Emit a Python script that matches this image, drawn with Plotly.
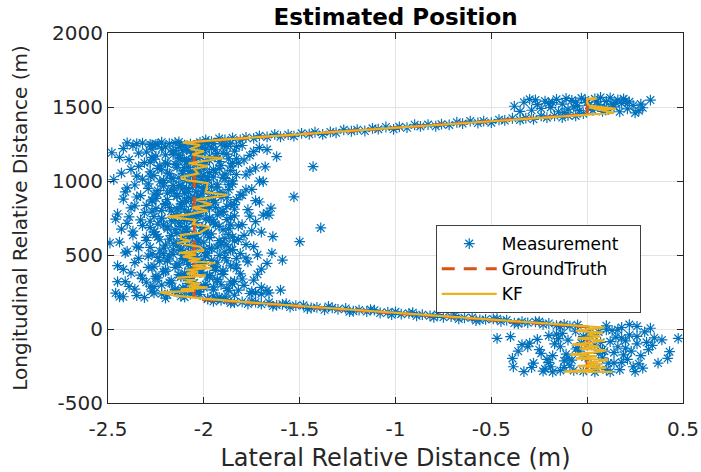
import plotly.graph_objects as go

# ---------------- data ----------------
meas_main_x = [
    -2.31, -1.98, -2.12, -1.84, -2.44, -2.07, -1.73, -2.19, -1.92, -2.26,
    -2.03, -1.67, -2.15, -2.36, -1.88, -2.08, -1.95, -2.28, -1.79, -2.11,
    -1.99, -2.22, -1.60, -2.41, -2.05, -1.86, -2.17, -1.93, -2.32, -1.74,
    -2.09, -2.25, -1.97, -2.13, -1.81, -2.38, -2.01, -1.90, -2.20, -1.70,
    -2.06, -2.29, -1.94, -2.45, -1.83, -2.14, -2.02, -1.77, -2.23, -1.96,
    -1.59, -2.10, -2.34, -1.89, -2.04, -2.18, -1.72, -2.27, -1.98, -2.07,
    -1.645, -2.40, -2.12, -1.85, -2.00, -2.21, -1.93, -2.35, -2.08, -1.78,
    -2.49, -1.50, -2.16, -1.91, -2.03, -2.30, -1.82, -2.11, -1.97, -2.24,
    -1.64, -2.06, -2.37, -1.87, -2.14, -1.99, -2.26, -1.75, -2.09, -2.43,
    -1.39, -2.01, -2.19, -1.92, -2.32, -1.80, -2.05, -2.13, -1.95, -2.28,
    -2.46, -2.10, -1.88, -2.22, -1.97, -2.39, -1.76, -2.04, -2.15, -1.69,
    -1.67, -2.07, -2.31, -1.90, -2.17, -2.00, -1.84, -2.25, -1.94, -2.12,
    -1.65, -2.36, -2.02, -1.86, -2.20, -1.98, -2.09, -1.73, -2.27, -2.42,
    -1.53, -2.05, -1.91, -2.14, -2.33, -1.81, -2.01, -2.19, -1.96, -2.08,
    -2.24, -1.78, -2.11, -2.40, -1.93, -2.03, -2.16, -1.87, -2.29, -1.99,
    -2.06, -1.71, -2.21, -2.47, -1.89, -2.13, -1.95, -2.35, -2.00, -1.83,
    -2.18, -1.97, -2.28, -1.76, -2.04, -2.38, -1.92, -2.10, -1.68, -2.23,
    -1.43, -2.02, -2.15, -1.85, -2.31, -1.99, -2.08, -1.79, -2.26, -2.12,
    -1.62, -2.44, -1.94, -2.05, -2.20, -1.88, -2.34, -2.01, -1.74, -2.16,
    -2.48, -1.67, -2.09, -2.27, -1.96, -2.13, -1.83, -2.37, -2.03, -1.91,
    -2.32, -2.18, -2.40, -2.22, -2.07, -1.98, -2.13, -2.28, -1.86,
]
meas_main_y = [
    212, 205, 221, 228, 218, 236, 247, 231, 214, 244,
    252, 261, 258, 270, 275, 266, 284, 289, 295, 278,
    301, 297, 263, 320, 312, 318, 326, 335, 341, 330,
    348, 355, 361, 367, 372, 379, 384, 391, 399, 404,
    411, 416, 421, 428, 434, 440, 446, 453, 458, 464,
    466, 471, 477, 483, 489, 495, 501, 507, 512, 518,
    513, 524, 530, 536, 541, 547, 553, 559, 564, 570,
    581, 590, 576, 584, 593, 598, 604, 611, 617, 622,
    624, 629, 634, 640, 646, 652, 657, 663, 669, 675,
    683, 681, 688, 694, 699, 705, 711, 716, 722, 728,
    743, 734, 739, 745, 751, 757, 762, 768, 774, 770,
    783, 780, 786, 792, 797, 803, 809, 815, 820, 826,
    817, 832, 838, 844, 849, 855, 861, 867, 872, 878,
    893, 884, 890, 896, 901, 907, 913, 918, 924, 930,
    936, 941, 947, 953, 959, 964, 970, 976, 981, 987,
    993, 999, 1004, 1010, 1016, 1022, 1027, 1033, 1039, 1044,
    1050, 1056, 1062, 1067, 1073, 1079, 1084, 1090, 1096, 1102,
    1097, 1107, 1113, 1119, 1124, 1130, 1136, 1142, 1147, 1153,
    1165, 1159, 1165, 1170, 1176, 1182, 1188, 1193, 1199, 1205,
    1191, 1212, 1210, 1216, 1222, 1228, 1233, 1239, 1245, 1250,
    1256, 1252, 1258, 1262, 1249, 1257, 1264, 1247, 1255,
]
meas_main2_x = [
    -2.20, -1.89, -2.35, -2.02, -1.76, -2.14, -2.27, -1.95, -2.09, -1.70,
    -2.39, -2.00, -1.85, -2.17, -2.30, -1.93, -2.07, -1.80, -2.24, -2.12,
    -1.98, -2.33, -1.72, -2.10, -2.21, -1.90, -2.04, -2.42, -1.83, -2.15,
    -2.26, -1.95, -2.08, -1.67, -2.36, -2.01, -1.88, -2.19, -2.11, -1.78,
    -2.05, -2.29, -1.92, -2.16, -1.81, -2.41, -2.00, -2.23, -1.86, -2.12,
    -1.97, -2.34, -1.74, -2.07, -2.20, -1.91, -2.13, -2.44, -1.84, -2.03,
    -2.18, -1.89, -2.30, -2.06, -1.79, -2.25, -1.96, -2.11, -1.70, -2.37,
    -2.00, -2.15, -1.87, -2.28, -2.09, -1.82, -2.21, -1.94, -2.40, -2.04,
    -1.73, -2.17, -2.33, -1.99, -2.10, -1.86, -2.26, -2.02, -1.93, -2.45,
    -2.08, -1.90, -2.22, -1.77, -2.14, -2.38, -1.97, -2.05, -2.30, -1.84,
    -2.12, -2.01, -1.71, -2.27, -1.95, -2.19, -2.07, -1.88, -2.35, -2.03,
    -1.80, -2.24, -2.10, -1.92, -2.41, -2.00, -2.16, -1.75, -2.29, -2.06,
    -1.96, -2.13, -2.36, -1.85, -2.04, -2.21, -1.69, -2.09, -1.98, -2.32,
    -2.17, -1.90, -2.03, -2.26, -1.78, -2.11, -2.43, -1.94, -2.07, -1.86,
    -2.22, -2.00, -1.73, -2.14, -2.34, -1.91, -2.05, -2.19, -1.82, -2.28,
    -2.09, -1.97, -2.39, -1.87, -2.13, -2.02, -2.25, -1.76, -2.16, -1.93,
    -2.06, -2.30, -1.84, -2.11, -1.99, -2.42, -1.71, -2.20, -2.04, -1.89,
    -2.24, -2.35, -1.80, -2.15, -2.27, -1.95, -2.02, -2.10,
    -2.46, -2.42, -2.45, -1.66, -1.75, -1.70, -1.82, -1.66,
]
meas_main2_y = [
    208, 217, 226, 233, 240, 249, 256, 264, 272, 281,
    287, 293, 304, 309, 316, 324, 331, 338, 345, 352,
    358, 364, 370, 377, 386, 393, 397, 403, 409, 417,
    424, 431, 437, 444, 449, 456, 461, 468, 475, 480,
    486, 492, 498, 504, 510, 515, 521, 527, 533, 539,
    545, 550, 556, 562, 567, 573, 579, 587, 595, 601,
    607, 613, 619, 626, 632, 637, 643, 649, 655, 661,
    666, 672, 678, 685, 691, 697, 702, 708, 714, 719,
    725, 731, 737, 742, 748, 754, 760, 765, 771, 777,
    788, 794, 800, 806, 812, 818, 823, 829, 835, 841,
    846, 852, 858, 864, 869, 875, 881, 887, 892, 898,
    904, 910, 915, 921, 927, 933, 938, 944, 950, 956,
    961, 967, 973, 979, 984, 990, 996, 1002, 1007, 1013,
    1019, 1025, 1030, 1036, 1042, 1048, 1053, 1059, 1065, 1070,
    1076, 1082, 1088, 1093, 1099, 1105, 1110, 1116, 1122, 1128,
    1133, 1139, 1145, 1150, 1156, 1162, 1168, 1173, 1179, 1185,
    1190, 1196, 1202, 1207, 1213, 1219, 1225, 1230, 1236, 1242,
    1247, 1253, 1240, 1259, 1244, 1252, 1261, 1243,
    243, 218, 320, 770, 252, 236, 262, 244,
]
meas_main3_x = [
    -2.10, -1.95, -2.22, -2.04, -1.87, -2.15, -2.00, -2.26, -1.91, -2.08,
    -2.18, -1.84, -2.06, -2.25, -1.97, -2.12, -1.90, -2.02, -2.20, -1.94,
    -2.07, -2.27, -1.86, -2.13, -2.01, -1.93, -2.19, -2.09, -1.83, -2.24,
    -1.99, -2.11, -2.21, -1.89, -2.05, -2.16, -1.96, -2.28, -2.03, -1.88,
    -2.14, -2.00, -1.92, -2.23, -2.08, -1.85, -2.17, -2.04, -1.98, -2.26,
    -2.09, -1.90, -2.19, -2.01, -2.12, -1.86, -2.24, -1.95, -2.06, -2.15,
    -1.97, -2.22, -2.07, -1.84, -2.13, -2.03, -1.91, -2.27, -2.10, -1.99,
    -2.18, -1.88, -2.05, -2.20, -1.94, -2.11, -2.02, -1.83, -2.25, -2.08,
    -1.96, -2.14, -2.26, -1.90, -2.04, -2.17, -1.87, -2.09, -2.00, -2.21,
    -2.12, -1.93, -2.06, -2.23, -1.85, -2.01, -2.16, -1.98, -2.28, -2.07,
    -1.89, -2.19, -2.03, -2.11, -1.95, -2.24, -2.08, -1.86, -2.14, -2.00,
    -2.20, -1.92, -2.10, -2.05, -1.83, -2.27, -1.97, -2.13, -2.02, -1.90,
    -2.16, -2.07, -1.94, -2.22, -2.01, -1.88, -2.12, -2.25, -1.99, -2.05,
]
meas_main3_y = [
    215, 223, 238, 246, 259, 268, 279, 286, 299, 307,
    314, 322, 333, 343, 350, 362, 369, 381, 389, 396,
    406, 414, 426, 432, 442, 451, 459, 469, 476, 484,
    494, 500, 509, 520, 526, 535, 543, 552, 560, 568,
    578, 586, 597, 603, 615, 621, 631, 638, 645, 654,
    660, 670, 677, 686, 693, 703, 709, 718, 726, 733,
    740, 749, 755, 764, 772, 779, 790, 796, 805, 811,
    821, 828, 836, 842, 853, 859, 866, 874, 882, 889,
    895, 905, 912, 919, 926, 935, 942, 949, 957, 965,
    971, 978, 988, 995, 1001, 1011, 1017, 1024, 1032, 1040,
    1047, 1054, 1061, 1069, 1077, 1085, 1092, 1101, 1108, 1115,
    1121, 1131, 1138, 1144, 1152, 1160, 1167, 1175, 1183, 1189,
    1197, 1204, 1211, 1218, 1226, 1234, 1241, 1248, 1254, 1231,
]
meas_lower_x = [
    -1.98, -1.95, -1.91, -1.88, -1.84, -1.80, -1.77, -1.73, -1.70, -1.66,
    -1.62, -1.59, -1.55, -1.52, -1.48, -1.44, -1.41, -1.37, -1.33, -1.30,
    -1.26, -1.22, -1.19, -1.15, -1.11, -1.08, -1.04, -1.00, -0.97, -0.93,
    -0.89, -0.86, -0.82, -0.78, -0.75, -0.71, -0.67, -0.64, -0.60, -0.56,
    -0.53, -0.49, -0.45, -0.42, -0.38, -0.34, -0.31, -0.27, -0.23, -0.20,
    -0.16, -0.12, -0.09, -0.05,
    -1.93, -1.86, -1.75, -1.64, -1.57, -1.46, -1.35, -1.24, -1.13, -1.02,
    -0.91, -0.80, -0.69, -0.58, -0.47, -0.36, -0.25, -0.14,
]
meas_lower_y = [
    202, 186, 194, 198, 178, 183, 169, 181, 168, 180,
    160, 167, 148, 158, 160, 142, 146, 130, 143, 133,
    139, 120, 128, 118, 127, 108, 113, 116, 100, 106,
    89, 97, 89, 98, 79, 84, 68, 76, 77, 61,
    65, 68, 52, 60, 40, 49, 42, 49, 31, 37,
    23, 31, 20, 28,
    205, 176, 188, 155, 171, 138, 152, 117, 131, 97,
    110, 78, 91, 57, 70, 36, 50, 17,
]
meas_upper_x = [
    -1.99, -1.96, -1.92, -1.89, -1.85, -1.81, -1.78, -1.74, -1.71, -1.67,
    -1.63, -1.60, -1.56, -1.53, -1.49, -1.45, -1.42, -1.38, -1.34, -1.31,
    -1.27, -1.23, -1.20, -1.16, -1.12, -1.09, -1.05, -1.01, -0.98, -0.94,
    -0.90, -0.87, -0.83, -0.79, -0.76, -0.72, -0.68, -0.65, -0.61, -0.57,
    -0.54, -0.50, -0.46, -0.43, -0.39, -0.35, -0.32, -0.28, -0.24, -0.21,
    -0.17, -0.13, -0.10, -0.06, -0.02,
]
meas_upper_y = [
    1277, 1266, 1288, 1277, 1291, 1277, 1294, 1288, 1305, 1298,
    1315, 1299, 1313, 1303, 1322, 1316, 1330, 1315, 1331, 1326,
    1346, 1336, 1347, 1338, 1356, 1350, 1365, 1349, 1366, 1360,
    1380, 1369, 1381, 1370, 1384, 1379, 1397, 1388, 1405, 1392,
    1404, 1394, 1414, 1409, 1424, 1413, 1425, 1417, 1440, 1428,
    1441, 1429, 1443, 1440, 1455,
]
meas_top_x = [
    -0.38, -0.33, -0.29, -0.26, -0.22, -0.19, -0.16, -0.13, -0.10, -0.08,
    -0.05, -0.03, 0.00, 0.02, 0.04, 0.06, 0.08, 0.10, 0.12, 0.14,
    0.16, 0.18, 0.21, 0.24, 0.27, 0.29, 0.33,
    -0.35, -0.30, -0.24, -0.20, -0.15, -0.11, -0.07, -0.04, -0.01, 0.01,
    0.05, 0.09, 0.11, 0.15, 0.19, 0.22, 0.25, 0.28,
    -0.27, -0.18, -0.12, -0.06, 0.03, 0.07, 0.13, 0.17, 0.20,
]
meas_top_y = [
    1505, 1532, 1478, 1516, 1540, 1497, 1552, 1520, 1485, 1545,
    1508, 1560, 1530, 1492, 1555, 1515, 1470, 1538, 1562, 1500,
    1548, 1524, 1488, 1510, 1475, 1495, 1547,
    1470, 1552, 1490, 1525, 1468, 1558, 1500, 1475, 1548, 1512,
    1535, 1498, 1482, 1528, 1555, 1535, 1460, 1520,
    1548, 1530, 1462, 1532, 1478, 1565, 1520, 1468, 1542,
]
meas_bottom_x = [
    -0.47, -0.40, -0.39, -0.385, -0.33, -0.30, -0.28, -0.25, -0.22, -0.20,
    -0.18, -0.16, -0.14, -0.12, -0.10, -0.08, -0.06, -0.04, -0.02, 0.00,
    0.02, 0.04, 0.06, 0.08, 0.10, 0.12, 0.14, 0.16, 0.18, 0.20,
    0.22, 0.24, 0.26, 0.28, 0.30, 0.32, 0.35, 0.39, 0.42, 0.43, 0.475, 0.25,
    -0.26, -0.21, -0.17, -0.13, -0.09, -0.05, -0.01, 0.03, 0.07, 0.11, 0.15, 0.19,
    -0.36, -0.31, -0.24, -0.19, -0.15, -0.11, -0.07, -0.03, 0.01, 0.05,
    0.09, 0.13, 0.17, 0.21, 0.27, 0.31,
    -0.29, -0.23, -0.12, -0.06, 0.00, 0.06, 0.12, 0.18, 0.23, 0.29,
    0.34, 0.37, -0.34, -0.18, 0.14,
    -0.20, -0.10, -0.02, 0.04, 0.08, 0.16, 0.20, 0.26, -0.14, 0.10,
    0.10, 0.18, 0.26, 0.33, 0.22,
]
meas_bottom_y = [
    -63, -52, -199, -255, -288, -95, -230, -140, -270, -45,
    -180, -35, -120, -260, -75, -210, -15, -150, -285, -60,
    -240, -110, -20, -195, -275, -85, -160, -5, -225, -130,
    -40, -255, -100, -180, -20, -140, -60, -74, -198, -153, -63, -288,
    -70, -205, -100, -30, -245, -125, -190, -40, -90, -230, -55, -175,
    -150, -120, -165, -255, -65, -170, -280, -95, -20, -265,
    -150, -10, -275, -205, -235, -90,
    -260, -285, -215, -135, -110, -165, -290, -60, -150, -265,
    -110, -230, -105, -290, -230,
    -225, -195, -50, -290, -140, -120, -80, -50, -280, -5,
    22, 10, 18, 5, 30,
]

gt_x = [0.0, 0.0, -2.05, -2.05, 0.0, 0.0]
gt_y = [-290, 15, 204, 1265, 1450, 1565]

kf_x = [
    0.13, -0.12, 0.02, 0.10, -0.05, 0.08, 0.00, 0.11, -0.06, 0.05,
    -0.09, 0.03, 0.10, -0.04, 0.06, -0.08, 0.02, 0.09, -0.05, 0.07,
    0.00, 0.08, -0.06, 0.04, 0.09,
    0.00, -0.30, -0.60, -0.90, -1.20, -1.50, -1.80, -2.00, -2.15, -2.23,
    -2.05, -2.12, -1.98, -2.08, -2.02, -2.10, -2.04, -2.14, -1.99, -2.09,
    -2.03, -2.09, -1.96, -2.06, -1.94, -2.08, -2.02, -2.11, -2.04, -2.13,
    -2.00, -2.02, -2.14, -2.07, -2.12, -2.12, -2.02, -1.97, -2.06, -2.04,
    -2.19, -2.08, -1.98, -2.06, -1.96, -2.04, -1.88, -1.99, -1.98, -2.09,
    -2.12, -2.03, -2.05, -1.98, -2.08, -1.97, -1.90, -2.00, -2.06, -2.00,
    -2.07, -2.02, -2.11,
    -1.90, -1.60, -1.30, -1.00, -0.70, -0.40, -0.10, 0.14,
    0.01, 0.15, 0.01, 0.00, 0.00, 0.05, 0.02,
]
kf_y = [
    -290, -288, -275, -262, -250, -238, -225, -210, -198, -185,
    -172, -160, -145, -132, -118, -105, -92, -78, -64, -50,
    -37, -25, -12, 0, 10,
    18, 45, 72, 100, 128, 155, 183, 205, 225, 248,
    258, 268, 280, 292, 305, 318, 331, 345, 360, 375,
    388, 399, 412, 425, 446, 460, 472, 489, 502, 515,
    530, 556, 581, 595, 610, 635, 650, 691, 710, 736,
    759, 775, 800, 820, 842, 872, 905, 925, 986, 1005,
    1027, 1050, 1081, 1100, 1120, 1140, 1155, 1162, 1180, 1200,
    1215, 1243, 1259,
    1280, 1306, 1332, 1360, 1387, 1414, 1441, 1460,
    1497, 1487, 1510, 1530, 1555, 1560, 1548,
]

x_ticks = [-2.5, -2, -1.5, -1, -0.5, 0, 0.5]
x_tick_labels = ["-2.5", "-2", "-1.5", "-1", "-0.5", "0", "0.5"]
y_ticks = [-500, 0, 500, 1000, 1500, 2000]
y_tick_labels = ["-500", "0", "500", "1000", "1500", "2000"]

meas_x = (meas_bottom_x + meas_lower_x + meas_main_x + meas_main2_x
          + meas_main3_x + meas_upper_x + meas_top_x)
meas_y = (meas_bottom_y + meas_lower_y + meas_main_y + meas_main2_y
          + meas_main3_y + meas_upper_y + meas_top_y)

# ---------------- figure ----------------
FONT = "DejaVu Sans"
TXT = "#262626"
PAD = "\u00a0\u00a0\u00a0"   # right padding inside the legend box

fig = go.Figure()
fig.add_trace(go.Scatter(
    x=meas_x, y=meas_y, mode="markers", name="Measurement" + PAD,
    marker=dict(symbol="asterisk-open", size=9, color="#0072BD",
                line=dict(color="#0072BD", width=1.2)),
))
fig.add_trace(go.Scatter(
    x=gt_x, y=gt_y, mode="lines", name="GroundTruth",
    line=dict(color="#D95319", width=3, dash="13px,9px"),
))
fig.add_trace(go.Scatter(
    x=kf_x, y=kf_y, mode="lines", name="KF",
    line=dict(color="#EDB120", width=2.2),
))

axis_common = dict(
    showgrid=True, gridcolor="#e3e3e3", gridwidth=1, automargin=False,
    zeroline=False, showline=True, linecolor=TXT, linewidth=1,
    mirror="ticks", ticks="inside", ticklen=6, tickcolor=TXT, tickwidth=1,
    tickfont=dict(family=FONT, size=20, color=TXT),
)
fig.update_xaxes(range=[-2.5, 0.5], tickvals=x_ticks, ticktext=x_tick_labels,
                 ticklabelstandoff=8,
                 title=dict(text="Lateral Relative Distance (m)",
                            font=dict(family=FONT, size=24, color=TXT), standoff=12),
                 **axis_common)
fig.update_yaxes(range=[-500, 2000], tickvals=y_ticks, ticktext=y_tick_labels,
                 title=dict(text="Longitudinal Relative Distance (m)",
                            font=dict(family=FONT, size=20, color=TXT), standoff=19),
                 **axis_common)

fig.update_layout(
    width=701, height=472,
    margin=dict(l=108, r=18, t=33, b=69, pad=0),
    paper_bgcolor="white", plot_bgcolor="white",
    title=dict(text="<b>Estimated Position</b>", x=0.5, xref="paper",
               y=0.965, yref="container", yanchor="middle", xanchor="center",
               font=dict(family=FONT, size=23, color="black")),
    legend=dict(x=0.57, y=0.481, xanchor="left", yanchor="top",
                bgcolor="white", bordercolor="#404040", borderwidth=1,
                font=dict(family=FONT, size=17, color="black"),
                itemwidth=55, tracegroupgap=0),
    showlegend=True,
)

fig.write_html("out.html")
